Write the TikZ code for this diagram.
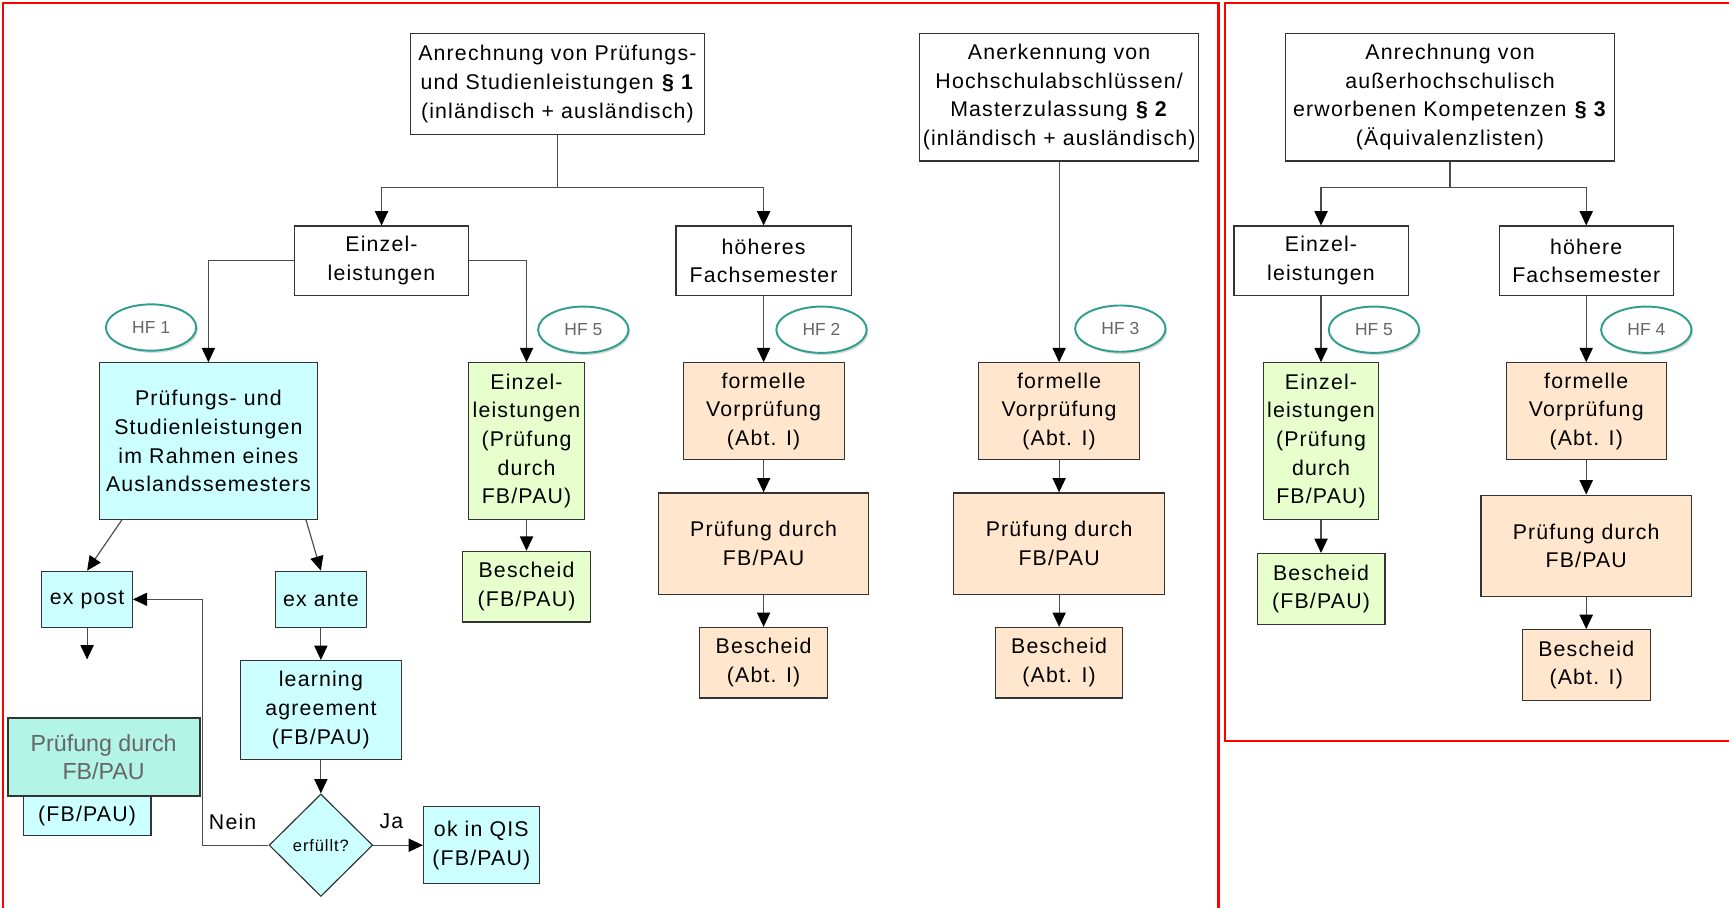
\documentclass[tikz,border=0pt]{standalone}
\usepackage{fontspec}
\newfontfamily\spacedfont[LetterSpace=5.5]{Liberation Sans}
\newfontfamily\hffont{Liberation Sans}
\usetikzlibrary{arrows.meta,shapes.geometric,shadows,positioning}
\definecolor{boxcyan}{HTML}{CCFFFF}
\definecolor{boxgreen}{HTML}{E6FFCC}
\definecolor{boxpeach}{HTML}{FFE6CC}
\definecolor{boxteal}{HTML}{B2F5E6}
\definecolor{hfteal}{HTML}{2F9E90}
\definecolor{framered}{HTML}{FF0000}

\begin{document}
\begin{tikzpicture}
   [x=0.02cm,y=-0.02cm,
    box/.style={draw=black!80,line width=0.6pt,align=center,inner sep=0pt,
                font=\spacedfont\fontsize{11}{14.8}\selectfont},
    wh/.style 2 args={minimum width=#1cm,minimum height=#2cm},
    cyanbox/.style={box,fill=boxcyan},
    greenbox/.style={box,fill=boxgreen},
    peachbox/.style={box,fill=boxpeach},
    hf/.style={ellipse,draw=hfteal,line width=1pt,fill=white,inner sep=0pt,
               minimum width=1.64cm,minimum height=0.84cm,text=black!60,
               font=\hffont\fontsize{9}{10}\selectfont,
               drop shadow={opacity=0.3,shadow xshift=0.03cm,shadow yshift=-0.04cm}},
    wire/.style={draw=black!70,line width=0.6pt},
    conn/.style={wire,-{Stealth[black,length=0.26cm,width=0.24cm,inset=0pt]}}]
\useasboundingbox (0,0) rectangle (1568,823);

\draw[framered,line width=1.2pt] (3,823) -- (3,3) -- (1105,3) -- (1105,823);
\draw[framered,line width=1.2pt] (1568,3) -- (1111,3) -- (1111,672) -- (1568,672);

\node[box,wh={5.34}{1.84}] (recht1) at (505.5,76) {Anrechnung von Prüfungs-\\und Studienleistungen \textbf{§ 1}\\(inländisch + ausländisch)};
\node[box,wh={5.06}{2.32}] (anerk2) at (960.5,88) {Anerkennung von\\Hochschulabschlüssen/\\Masterzulassung \textbf{§ 2}\\(inländisch + ausländisch)};
\node[box,wh={5.96}{2.32}] (recht3) at (1315,88) {Anrechnung von\\außerhochschulisch\\erworbenen Kompetenzen \textbf{§ 3}\\(Äquivalenzlisten)};

\node[box,wh={3.16}{1.26}] (einzel1) at (346,236.5) {Einzel-\\leistungen};
\node[box,wh={3.18}{1.26}] (hoeher1) at (692.5,236.5) {höheres\\Fachsemester};
\node[box,wh={3.16}{1.26}] (einzel3) at (1198,236.5) {Einzel-\\leistungen};
\node[box,wh={3.16}{1.26}] (hoeher3) at (1438.5,236.5) {höhere\\Fachsemester};

\node[hf] (hf1) at (137,297) {HF 1};
\node[hf] (hf5a) at (529,299) {HF 5};
\node[hf] (hf2) at (745,299) {HF 2};
\node[hf] (hf3) at (1016,298) {HF 3};
\node[hf] (hf5b) at (1246,299) {HF 5};
\node[hf] (hf4) at (1493,299) {HF 4};

\node[cyanbox,wh={3.96}{2.84}] (ausland) at (189,400) {Prüfungs- und\\Studienleistungen\\im Rahmen eines\\Auslandssemesters};
\node[greenbox,wh={2.10}{2.84}] (einzelpr1) at (477.5,400) {Einzel-\\leistungen\\(Prüfung\\durch\\FB/PAU)};
\node[greenbox,wh={2.32}{1.28}] (bescheidfb1) at (477.5,532) {Bescheid\\(FB/PAU)};

\node[peachbox,wh={2.92}{1.76}] (vorpr1) at (692.5,373) {formelle\\Vorprüfung\\(Abt. I)};
\node[peachbox,wh={3.80}{1.84}] (pruefung1) at (692.5,493) {Prüfung durch\\FB/PAU};
\node[peachbox,wh={2.32}{1.28}] (bescheid1) at (692.5,601) {Bescheid\\(Abt. I)};

\node[peachbox,wh={2.92}{1.76}] (vorpr2) at (960.5,373) {formelle\\Vorprüfung\\(Abt. I)};
\node[peachbox,wh={3.82}{1.84}] (pruefung2) at (960.5,493) {Prüfung durch\\FB/PAU};
\node[peachbox,wh={2.30}{1.28}] (bescheid2) at (960.5,601) {Bescheid\\(Abt. I)};

\node[greenbox,wh={2.08}{2.84}] (einzelpr3) at (1198,400) {Einzel-\\leistungen\\(Prüfung\\durch\\FB/PAU)};
\node[greenbox,wh={2.32}{1.28}] (bescheidfb3) at (1198,534) {Bescheid\\(FB/PAU)};

\node[peachbox,wh={2.90}{1.76}] (vorpr3) at (1438.5,373) {formelle\\Vorprüfung\\(Abt. I)};
\node[peachbox,wh={3.82}{1.84}] (pruefung3) at (1438.5,495) {Prüfung durch\\FB/PAU};
\node[peachbox,wh={2.32}{1.28}] (bescheid3) at (1438.5,603) {Bescheid\\(Abt. I)};

\node[cyanbox,wh={1.64}{1.02}] (expost) at (79,543.5) {ex post};
\node[cyanbox,wh={1.66}{1.02}] (exante) at (291,543.5) {ex ante};
\node[cyanbox,wh={2.92}{1.80}] (agreement) at (291,644) {learning\\agreement\\(FB/PAU)};
\node[cyanbox,diamond,minimum width=1.88cm,minimum height=1.86cm,
      font=\spacedfont\fontsize{8.5}{10}\selectfont] (erfuellt) at (291,766.5) {erfüllt?};
\node[cyanbox,wh={2.10}{1.40}] (qis) at (436.5,766.5) {ok in QIS\\(FB/PAU)};
\node[cyanbox,wh={2.32}{0.72}] (fbpau) at (79,740) {(FB/PAU)};
\node[box,fill=boxteal,line width=1pt,wh={3.48}{1.42},text=black!60,
      font=\hffont\fontsize{12}{14.2}\selectfont] (pruefteal) at (94,686.5) {Prüfung durch\\FB/PAU};

\node[font=\spacedfont\fontsize{11}{13}\selectfont] (nein) at (211,745) {Nein};
\node[font=\spacedfont\fontsize{11}{13}\selectfont] (ja) at (355,745) {Ja};

\coordinate (split1) at (505.5,170);
\coordinate (split3) at (1315,170);
\coordinate (expostend) at (79,598);

\draw[wire] (recht1) -- (split1);
\draw[conn] (split1) -| (einzel1);
\draw[conn] (split1) -| (hoeher1);
\draw[conn] (einzel1.west) -| (ausland.north);
\draw[conn] (einzel1.east) -| (einzelpr1.north);
\draw[conn] (einzelpr1) -- (bescheidfb1);
\draw[conn] (hoeher1) -- (vorpr1);
\draw[conn] (vorpr1) -- (pruefung1);
\draw[conn] (pruefung1) -- (bescheid1);

\draw[conn] (anerk2) -- (vorpr2);
\draw[conn] (vorpr2) -- (pruefung2);
\draw[conn] (pruefung2) -- (bescheid2);

\draw[wire] (recht3) -- (split3);
\draw[conn] (split3) -| (einzel3);
\draw[conn] (split3) -| (hoeher3);
\draw[conn] (einzel3) -- (einzelpr3);
\draw[conn] (einzelpr3) -- (bescheidfb3);
\draw[conn] (hoeher3) -- (vorpr3);
\draw[conn] (vorpr3) -- (pruefung3);
\draw[conn] (pruefung3) -- (bescheid3);

\draw[conn] ([xshift=0.42cm]ausland.south west) -- (expost.north);
\draw[conn] ([xshift=-0.22cm]ausland.south east) -- (exante.north);
\draw[conn] (expost) -- (expostend);
\draw[conn] (exante) -- (agreement);
\draw[conn] (agreement) -- (erfuellt);
\draw[conn] (erfuellt.east) -- (qis.west);
\draw[conn] (erfuellt.west) -- ++(-60,0) |- (expost.east);
\end{tikzpicture}
\end{document}
